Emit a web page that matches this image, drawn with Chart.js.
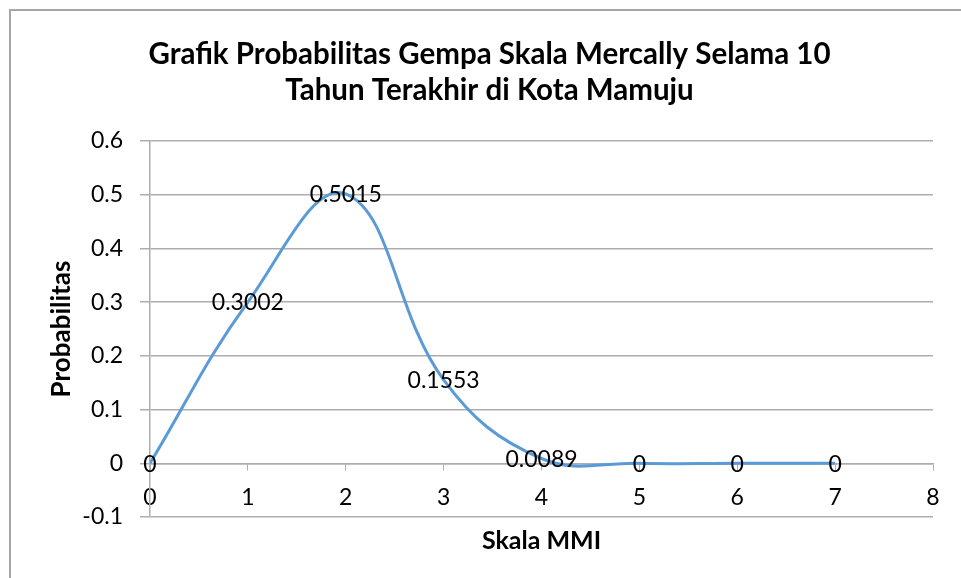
<!DOCTYPE html>
<html lang="en">
<head>
    <meta charset="utf-8">
    <title>Grafik Probabilitas Gempa</title>
    <script src="https://cdn.jsdelivr.net/npm/chart.js"></script>
    <style>
        html, body { margin: 0; padding: 0; background: #fff; }
        .wrap { position: relative; width: 961px; height: 578px; }
        .frame {
            position: absolute; left: 9px; top: 9px; right: -5px; bottom: -5px;
            border-left: 2px solid #a6a6a6; border-top: 2px solid #a6a6a6;
            pointer-events: none;
        }
    </style>
</head>
<body>
    <div class="wrap">
        <canvas id="probChart" width="961" height="578"></canvas>
        <div class="frame"></div>
    </div>
    <script>
        // data
        const skalaMMI = [0, 1, 2, 3, 4, 5, 6, 7];
        const probabilitas = [0, 0.3002, 0.5015, 0.1553, 0.0089, 0, 0, 0];
        const titleLines = ['Grafik Probabilitas Gempa Skala Mercally Selama 10', 'Tahun Terakhir di Kota Mamuju'];

        const FONT = 'Lato, "Open Sans", sans-serif';
        const GRID = '#adadad';

        // simple data labels, centered on each point
        const pointLabels = {
            id: 'pointLabels',
            afterDatasetsDraw(chart) {
                const ctx = chart.ctx;
                const meta = chart.getDatasetMeta(0);
                ctx.save();
                ctx.font = '23px ' + FONT;
                ctx.fillStyle = '#000';
                ctx.textAlign = 'center';
                ctx.textBaseline = 'middle';
                meta.data.forEach((pt, i) => {
                    ctx.fillText(String(probabilitas[i]), pt.x, pt.y + 1);
                });
                ctx.restore();
            }
        };

        // excel centres the title on the whole (wider) chart frame, nudge it right
        const titleShift = {
            id: 'titleShift',
            afterLayout(chart) {
                if (chart.titleBlock) {
                    chart.titleBlock.left += 36;
                }
            }
        };

        const ctx = document.getElementById('probChart').getContext('2d');
        const chart = new Chart(ctx, {
            type: 'line',
            data: {
                datasets: [{
                    data: skalaMMI.map((x, i) => ({ x: x, y: probabilitas[i] })),
                    borderColor: '#5b9bd5',
                    borderWidth: 3,
                    pointRadius: 0,
                    tension: 0.4,
                    fill: false
                }]
            },
            options: {
                responsive: false,
                animation: false,
                layout: { padding: { top: 24, left: 10, right: 28, bottom: 61 } },
                plugins: {
                    legend: { display: false },
                    tooltip: { enabled: false },
                    title: {
                        display: true,
                        text: titleLines,
                        color: '#000',
                        font: { family: FONT, size: 29.5, weight: 'bold', lineHeight: 1.22 },
                        padding: { top: 12, bottom: 33 }
                    }
                },
                scales: {
                    x: {
                        type: 'linear',
                        position: { y: 0 },
                        min: 0,
                        max: 8,
                        ticks: { stepSize: 1, color: '#000', padding: 14, font: { family: FONT, size: 23 } },
                        grid: { drawOnChartArea: false, drawTicks: true, tickLength: 6, color: GRID },
                        border: { color: GRID, width: 1.5 },
                        title: {
                            display: true,
                            text: 'Skala MMI',
                            color: '#000',
                            font: { family: FONT, size: 25, weight: 'bold' },
                            padding: { top: 1, bottom: 0 }
                        }
                    },
                    y: {
                        min: -0.1,
                        max: 0.6,
                        ticks: {
                            stepSize: 0.1, color: '#000', padding: 17, font: { family: FONT, size: 23 },
                            callback: (v) => {
                                const r = Math.round(v * 10) / 10;
                                return r === 0 ? '0' : String(r);
                            }
                        },
                        grid: { color: GRID, lineWidth: 1.5, tickLength: 10 },
                        border: { color: GRID, width: 1.5 },
                        title: {
                            display: true,
                            text: 'Probabilitas',
                            color: '#000',
                            font: { family: FONT, size: 26, weight: 'bold' },
                            padding: { top: 36, bottom: 0 }
                        },
                        afterFit(scale) { scale.width = 140; }
                    }
                }
            },
            plugins: [pointLabels, titleShift]
        });
    </script>
</body>
</html>
